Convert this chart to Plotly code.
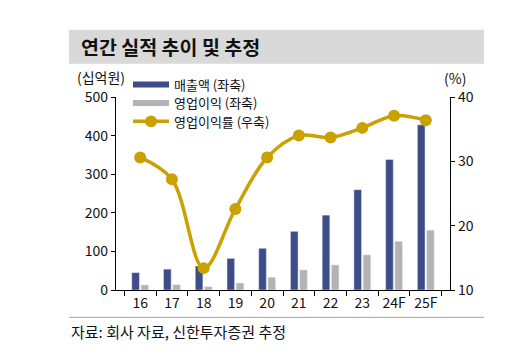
import plotly.graph_objects as go

years = ["16", "17", "18", "19", "20", "21", "22", "23", "24F", "25F"]
sales = [45, 54, 62, 82, 108, 152, 194, 260, 338, 428]
op_income = [13, 14, 8.5, 18, 33, 52, 65, 91, 126, 155]
op_margin = [30.6, 27.2, 13.4, 22.6, 30.6, 34.0, 33.7, 35.2, 37.1, 36.4]
legend_names = ["매출액 (좌축)", "영업이익 (좌축)", "영업이익률 (우축)"]

W, H = 514, 354
L, R, T, B = 116, 450, 96.5, 290.5
FONT = "Noto Sans CJK KR, Malgun Gothic, sans-serif"
NAVY = "#3E4C87"
GRAY = "#B3B3B3"
GOLD = "#C9A100"


def px(x):
    return (x - L) / (R - L)


def py(y):
    return (B - y) / (B - T)


fig = go.Figure()
fig.add_trace(go.Bar(x=years, y=sales, marker_color=NAVY, name=legend_names[0], showlegend=False, yaxis="y"))
fig.add_trace(go.Bar(x=years, y=op_income, marker_color=GRAY, name=legend_names[1], showlegend=False, yaxis="y"))
fig.add_trace(go.Scatter(x=years, y=op_margin, yaxis="y2", mode="lines+markers", name=legend_names[2],
                         line=dict(color=GOLD, width=3.5, shape="spline", smoothing=1),
                         marker=dict(color=GOLD, size=12), showlegend=False))

shapes = [
    dict(type="rect", xref="paper", yref="paper", x0=px(69), x1=px(484), y0=py(63), y1=py(29),
         fillcolor="#D9D9D9", line=dict(width=0), layer="below"),
    dict(type="line", xref="paper", yref="paper", x0=px(69), x1=px(484), y0=py(318), y1=py(318),
         line=dict(color="#A6A6A6", width=1)),
]
annotations = [
    dict(text="<b>연간 실적 추이 및 추정</b>", xref="paper", yref="paper", x=px(79), y=py(46),
         xanchor="left", yanchor="middle", showarrow=False, font=dict(size=19.5, color="#111111")),
    dict(text="(십억원)", xref="paper", yref="paper", x=px(75), y=py(76),
         xanchor="left", yanchor="middle", showarrow=False, font=dict(size=14)),
    dict(text="(%)", xref="paper", yref="paper", x=px(455), y=py(77),
         xanchor="center", yanchor="middle", showarrow=False, font=dict(size=14)),
    dict(text="자료: 회사 자료, 신한투자증권 추정", xref="paper", yref="paper", x=px(69), y=py(332),
         xanchor="left", yanchor="middle", showarrow=False, font=dict(size=15)),
]

# manual legend: swatches as shapes, labels as annotations
leg_rows = [84, 102.5, 121]
leg_colors = [NAVY, GRAY, GOLD]
for i, (name, col) in enumerate(zip(legend_names, leg_colors)):
    yy = py(leg_rows[i])
    lw = 6 if i < 2 else 3.5
    shapes.append(dict(type="line", xref="paper", yref="paper", x0=px(133), x1=px(169), y0=yy, y1=yy,
                       line=dict(color=col, width=lw)))
    if i == 2:
        shapes.append(dict(type="circle", xref="paper", yref="paper", x0=px(145), x1=px(157),
                           y0=py(leg_rows[i] + 6), y1=py(leg_rows[i] - 6), fillcolor=GOLD,
                           line=dict(width=0)))
    annotations.append(dict(text=name, xref="paper", yref="paper", x=px(172), y=yy,
                            xanchor="left", yanchor="middle", showarrow=False, font=dict(size=13)))

fig.update_layout(
    width=W, height=H,
    margin=dict(l=L, r=W - R, t=T, b=H - B, pad=0),
    paper_bgcolor="white", plot_bgcolor="white",
    font=dict(family=FONT, size=14, color="#111111"),
    barmode="group", bargap=0.42, bargroupgap=0.17,
    showlegend=False,
    xaxis=dict(type="category", showgrid=False, showline=True, linecolor="black", linewidth=1.3,
               ticks="outside", tickson="boundaries", ticklen=5, tickcolor="black", tickangle=0,
               tickfont=dict(size=14), zeroline=False),
    yaxis=dict(range=[0, 500], dtick=100, showgrid=False, showline=True, linecolor="black",
               linewidth=1.3, ticks="outside", ticklen=4, tickcolor="black", zeroline=False,
               tickfont=dict(size=14)),
    yaxis2=dict(range=[10, 40], dtick=10, overlaying="y", side="right", showgrid=False,
                showline=True, linecolor="black", linewidth=1.3, ticks="outside", ticklen=4,
                tickcolor="black", zeroline=False, tickfont=dict(size=14)),
    shapes=shapes,
    annotations=annotations,
)

fig.write_html("out.html")
